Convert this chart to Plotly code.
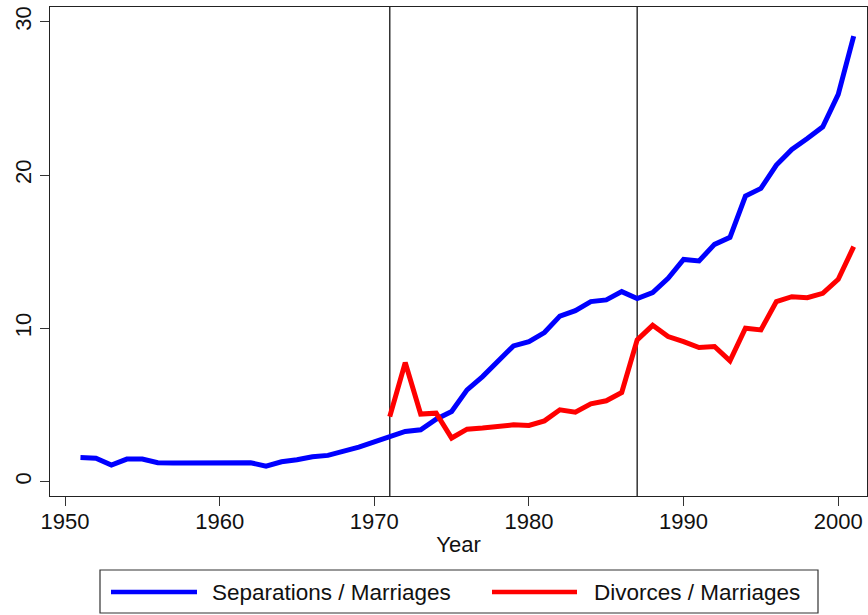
import plotly.graph_objects as go

years = list(range(1951, 2002))
separations = [1.58, 1.54, 1.09, 1.48, 1.48, 1.24, 1.22, 1.22, 1.28, 1.30,
               1.22, 1.24, 1.02, 1.30, 1.43, 1.63, 1.72, 1.98, 2.26, 2.60,
               2.95, 3.28, 3.39, 4.08, 4.58, 5.99, 6.86, 7.84, 8.86, 9.14,
               9.73, 10.80, 11.16, 11.75, 11.86, 12.40, 11.95, 12.33, 13.27, 14.50,
               14.40, 15.48, 15.94, 18.63, 19.13, 20.65, 21.67, 22.39, 23.15, 25.26,
               29.06]
div_years = list(range(1971, 2002))
divorces = [4.25, 7.77, 4.41, 4.47, 2.85, 3.43, 3.50, 3.60, 3.71, 3.67,
            3.97, 4.69, 4.54, 5.08, 5.28, 5.82, 9.25, 10.20, 9.47, 9.14,
            8.75, 8.82, 7.88, 10.01, 9.90, 11.75, 12.07, 12.00, 12.29, 13.20,
            15.33]
series_names = ["Separations / Marriages", "Divorces / Marriages"]
series_colors = ["#0000FF", "#FF0000"]
vlines = [1971, 1987]
x_ticks = [1950, 1960, 1970, 1980, 1990, 2000]
y_ticks = [0, 10, 20, 30]

FONT = "Liberation Sans, Arial, sans-serif"
W, H = 868, 615
ML, MR, MT, MB = 50, 1, 7, 119
PW, PH = W - ML - MR, H - MT - MB


def px_x(p):
    return (p - ML) / PW


def px_y(p):
    return (H - MB - p) / PH


fig = go.Figure()
fig.add_trace(go.Scatter(x=years, y=separations, mode="lines",
                         name=series_names[0], showlegend=False,
                         line=dict(color=series_colors[0], width=5)))
fig.add_trace(go.Scatter(x=div_years, y=divorces, mode="lines",
                         name=series_names[1], showlegend=False,
                         line=dict(color=series_colors[1], width=5)))

for v in vlines:
    fig.add_shape(type="line", xref="x", yref="paper", x0=v, x1=v, y0=0, y1=1,
                  line=dict(color="#333333", width=1.5), layer="below")

# legend box drawn in paper coordinates
fig.add_shape(type="rect", xref="paper", yref="paper",
              x0=px_x(100), x1=px_x(818), y0=px_y(613), y1=px_y(570),
              line=dict(color="#333333", width=1.2), fillcolor="rgba(0,0,0,0)")
legend_items = [(111, 197, 210), (492, 577, 592)]
for (lx0, lx1, tx), name, col in zip(legend_items, series_names, series_colors):
    fig.add_shape(type="line", xref="paper", yref="paper",
                  x0=px_x(lx0), x1=px_x(lx1), y0=px_y(592), y1=px_y(592),
                  line=dict(color=col, width=4.5))
    fig.add_annotation(xref="paper", yref="paper", x=px_x(tx), y=px_y(592),
                       text=name, showarrow=False, xanchor="left",
                       yanchor="middle", font=dict(size=22.5, color="#111111"))

fig.update_layout(
    width=W, height=H,
    margin=dict(l=ML, r=MR, t=MT, b=MB, autoexpand=False),
    paper_bgcolor="white", plot_bgcolor="white",
    font=dict(family=FONT, size=22, color="#111111"),
    showlegend=False,
)
fig.update_xaxes(range=[1949.03, 2001.86], tickvals=x_ticks, ticks="outside",
                 ticklen=9, tickcolor="#333333", showline=True, linecolor="#222222",
                 linewidth=1.2, mirror=True, showgrid=False, zeroline=False,
                 automargin=False, ticklabelstandoff=-4,
                 title=dict(text="Year", standoff=4, font=dict(size=22)),
                 tickfont=dict(size=22))
fig.update_yaxes(range=[-0.93, 30.96], tickvals=y_ticks, ticks="outside",
                 ticklen=9, tickcolor="#333333", showline=True, linecolor="#222222",
                 linewidth=1.2, mirror=True, showgrid=False, zeroline=False,
                 automargin=False, tickangle=-90, tickfont=dict(size=22))

fig.write_html("out.html", config={"displayModeBar": False},
               post_script="document.body.style.margin='0';document.body.style.padding='0';")
